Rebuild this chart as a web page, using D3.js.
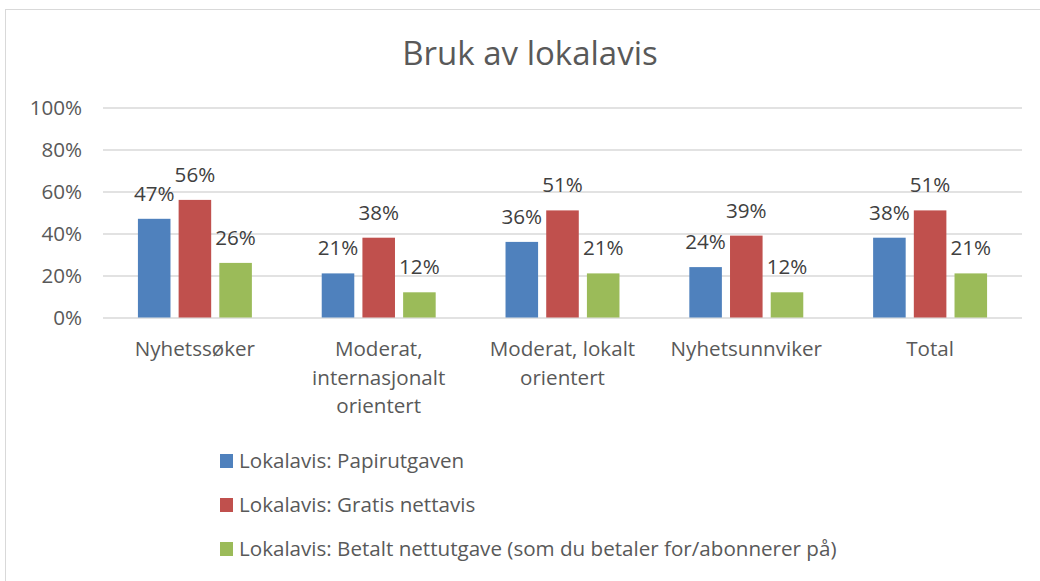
<!DOCTYPE html>
<html>
<head>
<meta charset="utf-8">
<script src="https://cdn.jsdelivr.net/npm/d3@7"></script>
<style>
  body { margin: 0; background: #fff; }
  text { font-family: "Open Sans", sans-serif; }
</style>
</head>
<body>
<div id="chart"></div>
<script>
// chart data
const categories = ['Nyhetssøker', 'Moderat, internasjonalt orientert', 'Moderat, lokalt orientert', 'Nyhetsunnviker', 'Total'];
const seriesNames = ['Lokalavis: Papirutgaven', 'Lokalavis: Gratis nettavis', 'Lokalavis: Betalt nettutgave (som du betaler for/abonnerer på)'];
const papir = [47, 21, 36, 24, 38];
const gratis = [56, 38, 51, 39, 51];
const betalt = [26, 12, 21, 12, 21];
const yTicks = [0, 20, 40, 60, 80, 100];
const colors = ['#4f81bd', '#c0504d', '#9bbb59'];

const seriesValues = [papir, gratis, betalt];

const width = 1040, height = 581;
const plot = {left: 103, right: 1022, top: 107.5, bottom: 317.5};
const fontFamily = '"Open Sans", sans-serif';
const fs = 20.6;

const svg = d3.select('#chart').append('svg')
    .attr('width', width)
    .attr('height', height);

// outer frame
svg.append('rect')
    .attr('x', 5.5).attr('y', 9.5)
    .attr('width', width + 20).attr('height', height + 20)
    .attr('fill', 'none')
    .attr('stroke', '#d9d9d9');

svg.append('text')
    .attr('x', 530).attr('y', 65)
    .attr('text-anchor', 'middle')
    .attr('fill', '#595959')
    .style('font-size', '33px')
    .text('Bruk av lokalavis');

const x0 = d3.scaleBand().domain(categories).range([plot.left, plot.right]).padding(0);
const bw = x0.bandwidth();
const x1 = d3.scaleBand().domain(d3.range(seriesNames.length))
    .range([bw * 0.19, bw * 0.81]).paddingInner(0.2);
const y = d3.scaleLinear().domain([0, 100]).range([plot.bottom, plot.top]);

// gridlines + y labels
const yAxis = d3.axisLeft(y)
    .tickValues(yTicks)
    .tickSize(-(plot.right - plot.left))
    .tickPadding(21)
    .tickFormat(d => d + '%');

svg.append('g')
    .attr('transform', `translate(${plot.left},0)`)
    .call(yAxis)
    .call(g => g.select('.domain').remove())
    .call(g => g.selectAll('line').attr('stroke', '#d9d9d9').attr('stroke-width', 1.5))
    .call(g => g.selectAll('text').attr('fill', '#595959').style('font-size', fs + 'px')
        .style('font-family', fontFamily));

// bars
const groups = svg.append('g').selectAll('g')
    .data(categories)
    .join('g')
    .attr('transform', d => `translate(${x0(d)},0)`);

const cells = groups.selectAll('.bar')
    .data((d, i) => seriesValues.map((vals, s) => ({s: s, v: vals[i]})))
    .join('g');

cells.append('rect')
    .attr('class', 'bar')
    .attr('x', d => x1(d.s))
    .attr('y', d => y(d.v))
    .attr('width', x1.bandwidth())
    .attr('height', d => y(0) - y(d.v))
    .attr('fill', d => colors[d.s]);

cells.append('text')
    .attr('x', d => x1(d.s) + x1.bandwidth() / 2)
    .attr('y', d => y(d.v) - 18)
    .attr('text-anchor', 'middle')
    .attr('fill', '#404040')
    .style('font-size', fs + 'px')
    .text(d => d.v + '%');

// category labels with simple wrapping
function wrapLabel(label, maxW) {
    const words = label.split(' ');
    const lines = [];
    let cur = '';
    const ctx = document.createElement('canvas').getContext('2d');
    ctx.font = fs + 'px ' + fontFamily;
    words.forEach(w => {
        const test = cur ? cur + ' ' + w : w;
        if (cur && ctx.measureText(test).width > maxW) {
            lines.push(cur);
            cur = w;
        } else {
            cur = test;
        }
    });
    lines.push(cur);
    return lines;
}

const catLabels = svg.append('g').selectAll('text')
    .data(categories)
    .join('text')
    .attr('x', d => x0(d) + bw / 2)
    .attr('y', 356)
    .attr('text-anchor', 'middle')
    .attr('fill', '#595959')
    .style('font-size', fs + 'px');

catLabels.each(function(d) {
    const lines = wrapLabel(d, 178);
    d3.select(this).selectAll('tspan')
        .data(lines)
        .join('tspan')
        .attr('x', x0(d) + bw / 2)
        .attr('dy', (l, i) => i === 0 ? 0 : 28.5)
        .text(l => l);
});

// legend
const legend = svg.append('g').selectAll('g')
    .data(seriesNames)
    .join('g')
    .attr('transform', (d, i) => `translate(220,${461 + i * 44})`);

legend.append('rect')
    .attr('x', 0).attr('y', -7)
    .attr('width', 13).attr('height', 14)
    .attr('fill', (d, i) => colors[i]);

legend.append('text')
    .attr('x', 19).attr('y', 7)
    .attr('fill', '#595959')
    .style('font-size', fs + 'px')
    .text(d => d);
</script>
</body>
</html>
